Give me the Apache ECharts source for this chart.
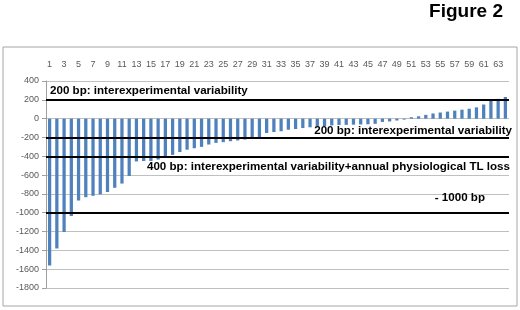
<!DOCTYPE html>
<html>
<head>
<meta charset="utf-8">
<script src="https://cdn.jsdelivr.net/npm/echarts@6/dist/echarts.min.js"></script>
<style>
  html, body { margin: 0; padding: 0; background: #fff; }
  #chart { width: 520px; height: 310px; }
</style>
</head>
<body>
<div id="chart"></div>
<script>
// categories (sample number)
var categories = ['1','2','3','4','5','6','7','8','9','10','11','12','13','14','15','16',
  '17','18','19','20','21','22','23','24','25','26','27','28','29','30','31','32',
  '33','34','35','36','37','38','39','40','41','42','43','44','45','46','47','48',
  '49','50','51','52','53','54','55','56','57','58','59','60','61','62','63','64'];

// TL change per sample (bp)
var tlChange = [-1560, -1380, -1205, -1035, -870, -835, -820, -805, -780, -735, -690, -610,
  -455, -450, -450, -435, -415, -385, -355, -330, -315, -300, -275, -258,
  -250, -240, -232, -222, -212, -205, -152, -142, -134, -118, -110, -100,
  -92, -85, -78, -72, -68, -66, -64, -62, -60, -55, -35, -30,
  -20, -10, 15, 25, 40, 55, 65, 75, 85, 95, 105, 120, 150, 200, 210, 230];

// reference lines and their texts
var refValues = [200, -200, -400, -1000];
var refLabels = [
  '200 bp: interexperimental variability',
  '200 bp: interexperimental variability',
  '400 bp: interexperimental variability+annual physiological TL loss',
  '- 1000 bp'
];
var refPositions = ['insideStartTop', 'insideEndTop', 'insideEndBottom', 'insideEndTop'];
var refDistances = [[4, 3], [-3, 1], [-1, 5], [24, 9]];

// y axis ticks
var yMin = -1800, yMax = 400, yStep = 200;

var lineData = refValues.map(function (v, i) {
  return {
    yAxis: v,
    lineStyle: { type: 'solid', color: '#000', width: 2 },
    label: {
      show: true,
      position: refPositions[i],
      distance: refDistances[i],
      formatter: refLabels[i],
      color: '#000',
      fontWeight: 'bold',
      fontSize: 11.6,
      fontFamily: 'Liberation Sans, Arial, sans-serif'
    }
  };
});

var myChart = echarts.init(document.getElementById('chart'));
var option = {
  animation: false,
  backgroundColor: '#fff',
  title: {
    text: 'Figure 2',
    right: 17,
    top: 2,
    padding: 0,
    textStyle: { fontFamily: 'Liberation Sans, Arial, sans-serif', fontWeight: 'bold', fontSize: 19, color: '#000' }
  },
  graphic: [{
    type: 'rect',
    shape: { x: 3, y: 47, width: 514, height: 259 },
    style: { fill: 'none', stroke: '#a6a6a6', lineWidth: 1 },
    silent: true
  }],
  grid: { left: 46, right: 11, top: 81, bottom: 22 },
  xAxis: {
    type: 'category',
    data: categories,
    position: 'top',
    axisLine: { show: false, onZero: false },
    axisTick: { show: false },
    axisLabel: { interval: 1, color: '#595959', fontSize: 9, margin: 12, fontFamily: 'Liberation Sans, Arial, sans-serif' },
    splitLine: { show: false }
  },
  yAxis: {
    type: 'value',
    min: yMin,
    max: yMax,
    interval: yStep,
    axisLine: { show: true, lineStyle: { color: '#a0a0a0' } },
    axisTick: { show: true, length: 4, lineStyle: { color: '#a0a0a0' } },
    axisLabel: {
      color: '#595959', fontSize: 9, margin: 7, fontFamily: 'Liberation Sans, Arial, sans-serif',
      formatter: function (v) { return String(v); }
    },
    splitLine: { show: true, lineStyle: { color: '#c0c0c0', width: 1 } }
  },
  series: [{
    name: 'TL change',
    type: 'bar',
    data: tlChange,
    barWidth: '45%',
    itemStyle: { color: '#4f81bd' },
    markLine: {
      symbol: 'none',
      silent: true,
      data: lineData
    }
  }]
};
myChart.setOption(option);
</script>
</body>
</html>
